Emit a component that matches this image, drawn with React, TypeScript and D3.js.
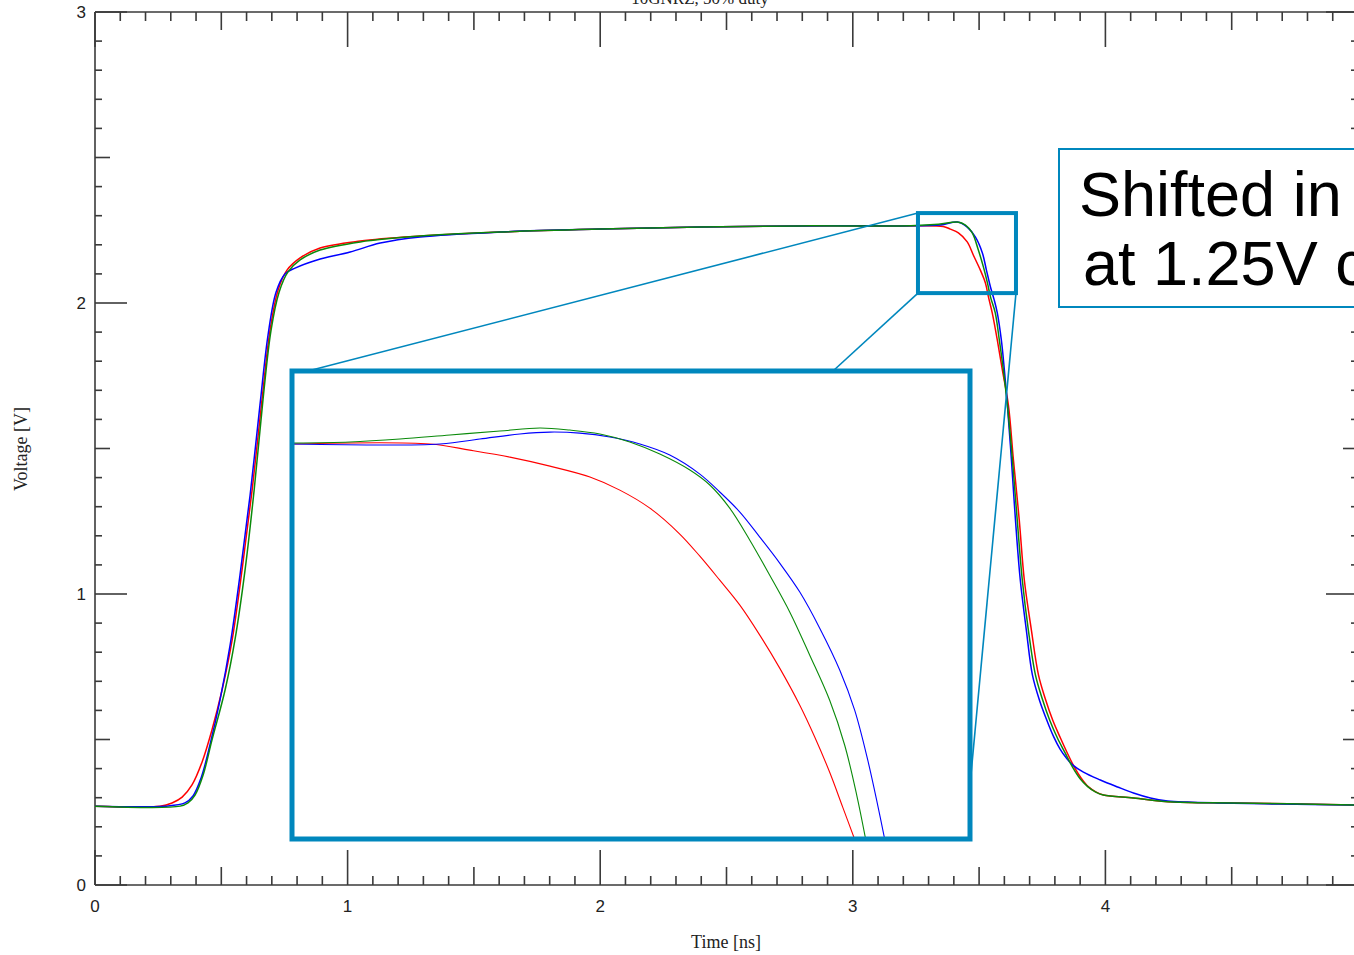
import React from "react";
import * as d3 from "d3";

type P = [number, number];

// Time [ns], Voltage [V]
const plateau: P[] = [[1.604, 2.244], [2.0, 2.254], [2.396, 2.261], [2.792, 2.265], [3.188, 2.265]];
const tailCommon: P[] = [[3.992, 0.309], [4.111, 0.299], [4.269, 0.285], [4.507, 0.282], [4.986, 0.275]];

const redMain: P[] = [
  [0, 0.271], [0.257, 0.271], [0.305, 0.282], [0.345, 0.302], [0.384, 0.344], [0.424, 0.423],
  [0.463, 0.533], [0.503, 0.67], [0.543, 0.842], [0.582, 1.082], [0.622, 1.357], [0.661, 1.667],
  [0.693, 1.907], [0.725, 2.045], [0.76, 2.113], [0.812, 2.155], [0.891, 2.189], [1.05, 2.213],
  [1.287, 2.23], ...plateau,
  [3.358, 2.263], [3.386, 2.254], [3.418, 2.241], [3.453, 2.21], [3.477, 2.165], [3.505, 2.113],
  [3.525, 2.069], [3.537, 2.021], [3.552, 1.966], [3.572, 1.873], [3.592, 1.77], [3.616, 1.649],
  [3.636, 1.46], [3.659, 1.254], [3.679, 1.048], [3.707, 0.876], [3.735, 0.722], [3.762, 0.64],
  [3.792, 0.565], [3.822, 0.505], [3.85, 0.452], [3.877, 0.405], [3.905, 0.366], [3.932, 0.338],
  [3.962, 0.32], ...tailCommon,
];

const greenMain: P[] = [
  [0, 0.271], [0.337, 0.271], [0.368, 0.282], [0.396, 0.309], [0.428, 0.378], [0.463, 0.498],
  [0.515, 0.67], [0.554, 0.842], [0.594, 1.082], [0.63, 1.357], [0.665, 1.667], [0.697, 1.907],
  [0.729, 2.038], [0.764, 2.107], [0.812, 2.148], [0.891, 2.182], [1.05, 2.21], [1.287, 2.23],
  ...plateau,
  [3.339, 2.271], [3.414, 2.278], [3.446, 2.268], [3.473, 2.241], [3.497, 2.182], [3.517, 2.124],
  [3.533, 2.069], [3.545, 2.021], [3.564, 1.966], [3.58, 1.873], [3.596, 1.77], [3.612, 1.649],
  [3.632, 1.46], [3.651, 1.254], [3.671, 1.048], [3.695, 0.876], [3.723, 0.722], [3.75, 0.64],
  [3.78, 0.565], [3.81, 0.505], [3.84, 0.455], [3.87, 0.405], [3.9, 0.365], [3.93, 0.338],
  [3.96, 0.32], ...tailCommon,
];

const blueMain: P[] = [
  [0, 0.271], [0.277, 0.271], [0.356, 0.282], [0.388, 0.306], [0.42, 0.368], [0.455, 0.481],
  [0.495, 0.636], [0.535, 0.825], [0.574, 1.065], [0.614, 1.34], [0.653, 1.649], [0.685, 1.89],
  [0.717, 2.038], [0.752, 2.1], [0.792, 2.12], [0.879, 2.148], [1.01, 2.175], [1.129, 2.206],
  [1.287, 2.227], ...plateau,
  [3.347, 2.268], [3.414, 2.278], [3.453, 2.261], [3.485, 2.227], [3.513, 2.172], [3.529, 2.113],
  [3.545, 2.055], [3.56, 2.01], [3.572, 1.966], [3.588, 1.873], [3.6, 1.77], [3.612, 1.649],
  [3.628, 1.46], [3.644, 1.254], [3.663, 1.048], [3.687, 0.876], [3.711, 0.722], [3.739, 0.635],
  [3.77, 0.562], [3.795, 0.51], [3.82, 0.468], [3.845, 0.437], [3.87, 0.413], [3.913, 0.388],
  [3.98, 0.361], [4.048, 0.337], [4.111, 0.316], [4.178, 0.299], [4.246, 0.289], [4.325, 0.285],
  [4.444, 0.282], [4.693, 0.278], [4.986, 0.275],
];

// Magnified view (inset)
const zoomT: P = [3.258, 3.646];
const zoomV: P = [2.034, 2.309];

const greenInset: P[] = [
  [3.258, 2.2667], [3.2912, 2.2673], [3.3198, 2.269], [3.3484, 2.2714], [3.377, 2.2737],
  [3.3999, 2.2755], [3.417, 2.2743], [3.4342, 2.272], [3.4513, 2.2673], [3.4685, 2.2602],
  [3.4857, 2.2508], [3.4971, 2.242], [3.5085, 2.2284], [3.52, 2.2096], [3.5314, 2.189],
  [3.5429, 2.1673], [3.5543, 2.142], [3.5657, 2.1155], [3.5743, 2.0891], [3.5812, 2.0597],
  [3.5863, 2.0338],
];
const blueInset: P[] = [
  [3.258, 2.2661], [3.3427, 2.2661], [3.3655, 2.269], [3.3884, 2.272], [3.4056, 2.2731],
  [3.4227, 2.2725], [3.4399, 2.2702], [3.4571, 2.2661], [3.4742, 2.2596], [3.4914, 2.2484],
  [3.5028, 2.2379], [3.5143, 2.2261], [3.5257, 2.2114], [3.5371, 2.1961], [3.5486, 2.1791],
  [3.56, 2.1579], [3.5715, 2.1332], [3.58, 2.1097], [3.5875, 2.0803], [3.5932, 2.0538],
  [3.5972, 2.0338],
];
const redInset: P[] = [
  [3.258, 2.2661], [3.3369, 2.2661], [3.3598, 2.2625], [3.3827, 2.2584], [3.4056, 2.2531],
  [3.4285, 2.2467], [3.4456, 2.239], [3.4628, 2.2284], [3.4799, 2.2132], [3.4914, 2.2002],
  [3.5028, 2.1861], [3.5143, 2.1714], [3.5257, 2.1538], [3.5371, 2.1344], [3.5486, 2.1126],
  [3.5572, 2.0938], [3.5657, 2.0732], [3.5732, 2.0526], [3.58, 2.0338],
];

const xTickLabels = [0, 1, 2, 3, 4];
const yTickLabels = [0, 1, 2, 3];
const titleText = "10GNRZ, 50% duty";
const noteLines = ["Shifted in time", "at 1.25V crossing"];

const RED = "#ff0000";
const BLUE = "#0000ff";
const GREEN = "#0a8a0a";
const TEAL = "#0087bd";
const AX = "#3a3a3a";

export default function App() {
  const W = 1354, H = 955;
  const x = d3.scaleLinear().domain([0, 5]).range([95, 1358]);
  const y = d3.scaleLinear().domain([0, 3]).range([885, 12]);
  const line = d3.line<P>().x((d) => x(d[0])).y((d) => y(d[1])).curve(d3.curveCatmullRom.alpha(0.5));

  const inset = { x0: 292, y0: 371, x1: 970, y1: 839 };
  const xi = d3.scaleLinear().domain(zoomT).range([inset.x0, inset.x1]);
  const yi = d3.scaleLinear().domain(zoomV).range([inset.y1, inset.y0]);
  const lineI = d3.line<P>().x((d) => xi(d[0])).y((d) => yi(d[1])).curve(d3.curveCatmullRom.alpha(0.5));

  const xt = d3.range(0, 51).map((i) => ({ v: i / 10, len: i % 10 === 0 ? 35 : i % 5 === 0 ? 18 : 9 }));
  const yt = d3.range(0, 31).map((i) => ({ v: i / 10, len: i % 10 === 0 ? 32 : i % 5 === 0 ? 15 : 7 }));

  const bx0 = x(zoomT[0]), bx1 = x(zoomT[1]), by0 = y(zoomV[1]), by1 = y(zoomV[0]);

  return (
    <svg width={W} height={H} style={{ position: "absolute", left: 0, top: 0, background: "#fff" }}>
      <rect x={0} y={0} width={W} height={H} fill="#fff" />
      <text x={700} y={4} textAnchor="middle" fontFamily="'Liberation Serif', 'Times New Roman', serif" fontSize={17} fill="#222">
        {titleText}
      </text>

      {/* frame */}
      <g stroke={AX} strokeWidth={1.6} fill="none">
        <line x1={95} y1={12} x2={1358} y2={12} />
        <line x1={95} y1={885} x2={1358} y2={885} />
        <line x1={95} y1={12} x2={95} y2={885} />
        <line x1={1358} y1={12} x2={1358} y2={885} />
        {xt.map((t, i) => (
          <g key={"xt" + i}>
            <line x1={x(t.v)} x2={x(t.v)} y1={885} y2={885 - t.len} />
            <line x1={x(t.v)} x2={x(t.v)} y1={12} y2={12 + t.len} />
          </g>
        ))}
        {yt.map((t, i) => (
          <g key={"yt" + i}>
            <line x1={95} x2={95 + t.len} y1={y(t.v)} y2={y(t.v)} />
            <line x1={1358} x2={1358 - t.len} y1={y(t.v)} y2={y(t.v)} />
          </g>
        ))}
      </g>

      <g fontFamily="'Liberation Sans Narrow', 'Liberation Sans', Arial, sans-serif" fontSize={17} fill="#222">
        {xTickLabels.map((v) => (
          <text key={"xl" + v} x={x(v)} y={912} textAnchor="middle">{v}</text>
        ))}
        {yTickLabels.map((v) => (
          <text key={"yl" + v} x={86} y={y(v) + 6} textAnchor="end">{v}</text>
        ))}
      </g>

      <text x={726} y={948} textAnchor="middle" fontFamily="'Liberation Serif', 'Times New Roman', serif" fontSize={18} fill="#222">
        Time [ns]
      </text>
      <text transform="translate(27,449) rotate(-90)" textAnchor="middle" fontFamily="'Liberation Serif', 'Times New Roman', serif" fontSize={18} fill="#222">
        Voltage [V]
      </text>

      {/* main curves */}
      <g fill="none" strokeWidth={1.5}>
        <path d={line(redMain) || ""} stroke={RED} />
        <path d={line(blueMain) || ""} stroke={BLUE} />
        <path d={line(greenMain) || ""} stroke={GREEN} />
      </g>

      {/* connectors */}
      <g stroke={TEAL} strokeWidth={1.6}>
        <line x1={bx0} y1={by0} x2={308} y2={inset.y0} />
        <line x1={bx0} y1={by1} x2={833} y2={inset.y0} />
        <line x1={bx1} y1={by1} x2={inset.x1} y2={785} />
      </g>

      {/* small zoom box */}
      <rect x={bx0} y={by0} width={bx1 - bx0} height={by1 - by0} fill="none" stroke={TEAL} strokeWidth={4} />

      {/* inset */}
      <defs>
        <clipPath id="insetClip">
          <rect x={inset.x0 + 2} y={inset.y0 + 2} width={inset.x1 - inset.x0 - 4} height={inset.y1 - inset.y0 - 4} />
        </clipPath>
      </defs>
      <rect x={inset.x0} y={inset.y0} width={inset.x1 - inset.x0} height={inset.y1 - inset.y0} fill="#fff" />
      <g clipPath="url(#insetClip)" fill="none" strokeWidth={1.1}>
        <path d={lineI(redInset) || ""} stroke={RED} />
        <path d={lineI(blueInset) || ""} stroke={BLUE} />
        <path d={lineI(greenInset) || ""} stroke={GREEN} />
      </g>
      <rect x={inset.x0} y={inset.y0} width={inset.x1 - inset.x0} height={inset.y1 - inset.y0} fill="none" stroke={TEAL} strokeWidth={5} />

      {/* annotation */}
      <rect x={1059} y={149} width={340} height={158} fill="#fff" stroke={TEAL} strokeWidth={2} />
      <g fontFamily="'Liberation Sans', Arial, sans-serif" fontSize={63} fill="#000">
        <text x={1079} y={216}>{noteLines[0]}</text>
        <text x={1083} y={285}>{noteLines[1]}</text>
      </g>
    </svg>
  );
}
